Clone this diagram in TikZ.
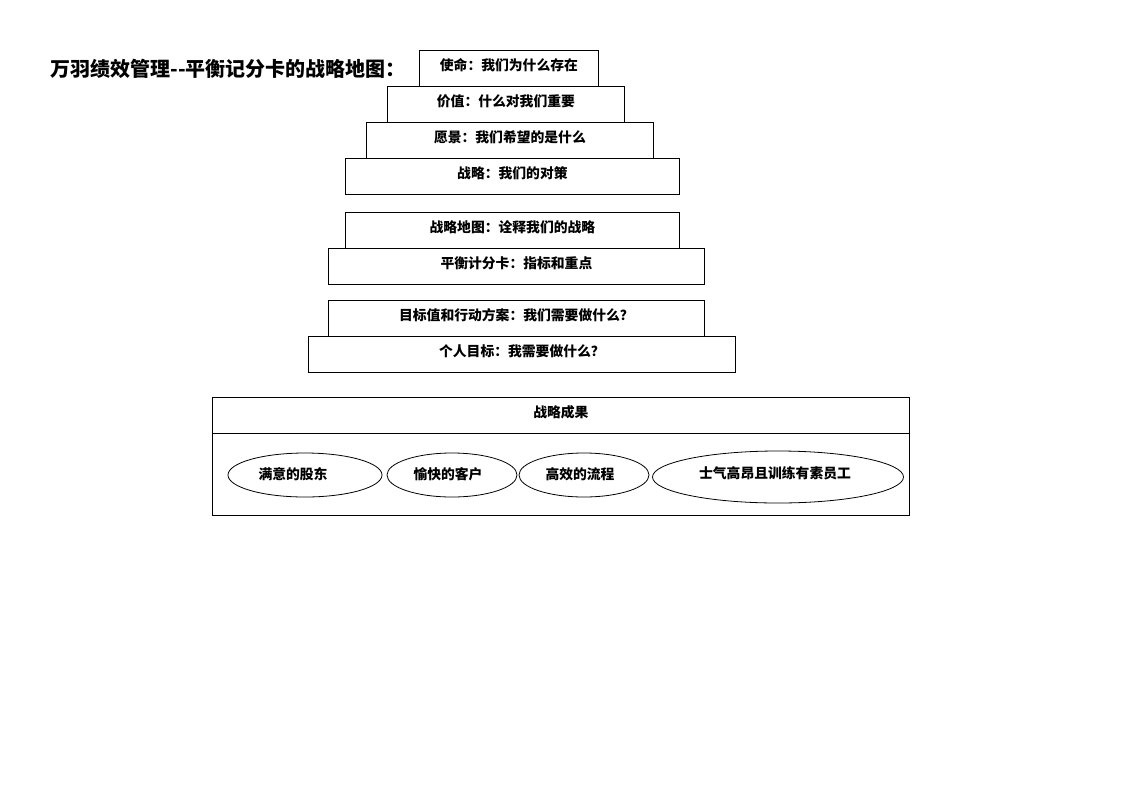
\documentclass[tikz,border=0pt]{standalone}
\usepackage{fontspec}
\newfontfamily\cjk{Noto Sans CJK SC}
\usetikzlibrary{shapes.geometric}
\begin{document}
\begin{tikzpicture}[x=1pt,y=-1pt,
  every node/.style={font=\cjk\bfseries\fontsize{13.8}{15}\selectfont},
  box/.style={draw,line width=0.8pt,anchor=north west,inner sep=0pt,text depth=7pt},
  oval/.style={draw,ellipse,line width=0.8pt,inner sep=0pt}]
\useasboundingbox (0,0) rectangle (1122,793);
\node[anchor=west,font=\cjk\bfseries\fontsize{20}{22}\selectfont] (title) at (47,69) {万羽绩效管理--平衡记分卡的战略地图：};
\node[box,minimum width=179pt,minimum height=36pt] (b1) at (419,50) {使命：我们为什么存在};
\node[box,minimum width=237pt,minimum height=36pt] (b2) at (387,86) {价值：什么对我们重要};
\node[box,minimum width=287pt,minimum height=36pt] (b3) at (366,122) {愿景：我们希望的是什么};
\node[box,minimum width=334pt,minimum height=36pt] (b4) at (345,158) {战略：我们的对策};
\node[box,minimum width=334pt,minimum height=36pt] (b5) at (345,212) {战略地图：诠释我们的战略};
\node[box,minimum width=376pt,minimum height=36pt] (b6) at (328,248) {平衡计分卡：指标和重点};
\node[box,minimum width=376pt,minimum height=36pt] (b7) at (328,300) {目标值和行动方案：我们需要做什么？};
\node[box,minimum width=427pt,minimum height=36pt] (b8) at (308,336) {个人目标：我需要做什么？};
\node[box,minimum width=697pt,minimum height=36pt] (res) at (212,397) {战略成果};
\node[box,minimum width=697pt,minimum height=82pt] (resbody) at (212,433) {};
\node[oval,minimum width=154pt,minimum height=44pt] (e1) at (305,475) {};
\node (t1) at (293,474) {满意的股东};
\node[oval,minimum width=130pt,minimum height=44pt] (e2) at (452,475) {};
\node (t2) at (448,474) {愉快的客户};
\node[oval,minimum width=130pt,minimum height=44pt] (e3) at (584,475) {};
\node (t3) at (580,474) {高效的流程};
\node[oval,minimum width=251pt,minimum height=52pt] (e4) at (778,477) {};
\node (t4) at (775,473) {士气高昂且训练有素员工};
\end{tikzpicture}
\end{document}
